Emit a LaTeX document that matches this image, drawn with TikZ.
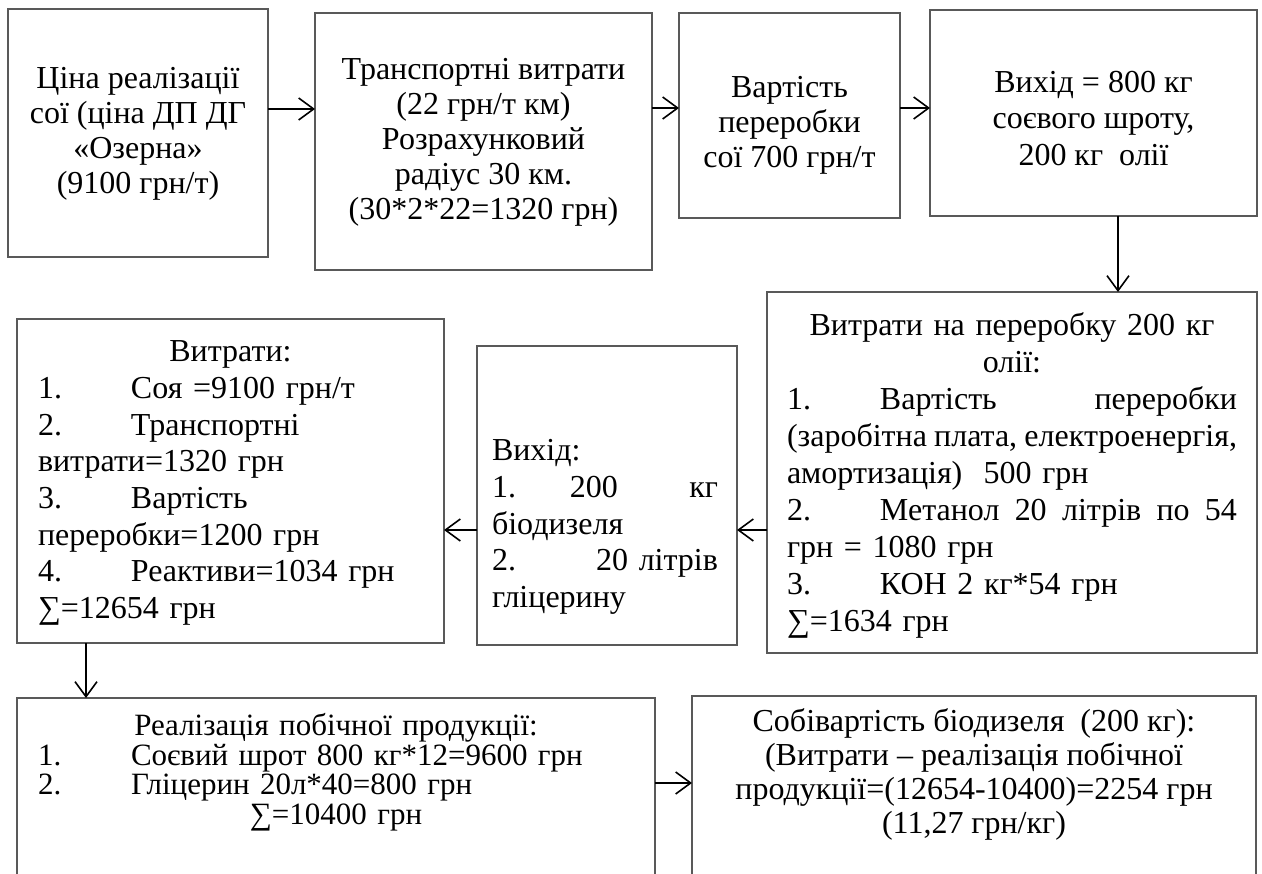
\documentclass[tikz,border=0pt]{standalone}
\usepackage{fontspec}
\setmainfont{Liberation Serif}
\usetikzlibrary{arrows.meta}
\newcommand\ctrline[1]{\hspace*{\fill}#1\hspace*{\fill}\mbox{}}
\newcommand\tabnum[1]{\makebox[93pt][l]{#1}}
\newcommand\tightfont{\fontsize{31}{29.5}\selectfont\lineskiplimit=-50pt\relax}
\tikzset{
  box/.style={draw=black!65, line width=1.3pt, inner sep=0pt, outer sep=0pt},
  txt/.style={inner sep=0pt, outer sep=0pt, font=\fontsize{32}{35}\selectfont},
  arr/.style={line width=1.6pt, draw=black, -{Straight Barb[length=15pt,width=22pt]}},
}
\begin{document}
\begin{tikzpicture}[x=1pt,y=-1pt]
\useasboundingbox (0,0) rectangle (1262,874);
% boxes
\node[box, minimum width=260pt, minimum height=248pt] (a) at (138,133) {};
\node[box, minimum width=337pt, minimum height=257pt] (b) at (483.5,141.5) {};
\node[box, minimum width=221pt, minimum height=205pt] (c) at (789.5,115.5) {};
\node[box, minimum width=327pt, minimum height=206pt] (d) at (1093.5,113) {};
\node[box, minimum width=490pt, minimum height=361pt] (e) at (1012,472.5) {};
\node[box, minimum width=260pt, minimum height=299pt] (f) at (607,495.5) {};
\node[box, minimum width=427pt, minimum height=324pt] (g) at (230.5,481) {};
\node[box, minimum width=638pt, minimum height=182pt] (h) at (336,789) {};
\node[box, minimum width=564pt, minimum height=184pt] (i) at (974,788) {};
% texts
\node[txt, align=center] (ta) at (138,133.5) {Ціна реалізації\\сої (ціна ДП ДГ\\«Озерна»\\(9100 грн/т)};
\node[txt, align=center] (tb) at (483.5,142) {Транспортні витрати\\(22 грн/т км)\\Розрахунковий\\радіус 30 км.\\(30*2*22=1320 грн)};
\node[txt, align=center] (tc) at (789.5,125) {Вартість\\переробки\\сої 700 грн/т};
\node[txt, align=center, font=\fontsize{32}{36.5}\selectfont] (td) at (1093.5,118.5) {Вихід = 800 кг\\соєвого шроту,\\200 кг~~олії};
\node[txt, text width=450pt, align=left, font=\fontsize{32}{37}\selectfont] (te) at (1012,475) {%
\ctrline{Витрати на переробку 200 кг}\\
\ctrline{олії:}\\
\tabnum{1.}Вартість\hfill переробки\\
(заробітна\hfill плата,\hfill електроенергія,\\
амортизація)~~500 грн\\
\tabnum{2.}Метанол\hfill 20\hfill літрів\hfill по\hfill 54\\
грн = 1080 грн\\
\tabnum{3.}КОН 2 кг*54 грн\\
∑=1634 грн};
\node[txt, text width=226pt, align=left, font=\fontsize{32}{36.7}\selectfont] (tf) at (605,527) {%
Вихід:\\
\makebox[78pt][l]{1.}200\hfill кг\\
біодизеля\\
2.\hfill 20 літрів\\
гліцерину};
\node[txt, text width=385pt, align=left, font=\fontsize{32}{36.7}\selectfont] (tg) at (230.5,483) {%
\ctrline{Витрати:}\\
\tabnum{1.}Соя =9100 грн/т\\
\tabnum{2.}Транспортні\\
витрати=1320 грн\\
\tabnum{3.}Вартість\\
переробки=1200 грн\\
\tabnum{4.}Реактиви=1034 грн\\
∑=12654 грн};
\node[txt, text width=596pt, align=left, font=\tightfont] (th) at (336,772) {%
\ctrline{Реалізація побічної продукції:}\\
\tabnum{1.}Соєвий шрот 800 кг*12=9600 грн\\
\tabnum{2.}Гліцерин 20л*40=800 грн\\
\ctrline{∑=10400 грн}};
\node[txt, align=center, font=\fontsize{32}{34}\selectfont] (ti) at (974,774) {Собівартість біодизеля~~(200 кг):\\(Витрати – реалізація побічної\\продукції=(12654-10400)=2254 грн\\(11,27 грн/кг)};
% connector levels
\coordinate (yab) at (0,109);
\coordinate (ybc) at (0,108);
\coordinate (yef) at (0,530);
\coordinate (yhi) at (0,783);
\coordinate (xde) at (1118,0);
\coordinate (xgh) at (86,0);
% connectors
\draw[arr] (a.east |- yab) -- (b.west |- yab);
\draw[arr] (b.east |- ybc) -- (c.west |- ybc);
\draw[arr] (c.east |- ybc) -- (d.west |- ybc);
\draw[arr] (d.south -| xde) -- (e.north -| xde);
\draw[arr] (e.west |- yef) -- (f.east |- yef);
\draw[arr] (f.west |- yef) -- (g.east |- yef);
\draw[arr] (g.south -| xgh) -- (h.north -| xgh);
\draw[arr] (h.east |- yhi) -- (i.west |- yhi);
\end{tikzpicture}
\end{document}
